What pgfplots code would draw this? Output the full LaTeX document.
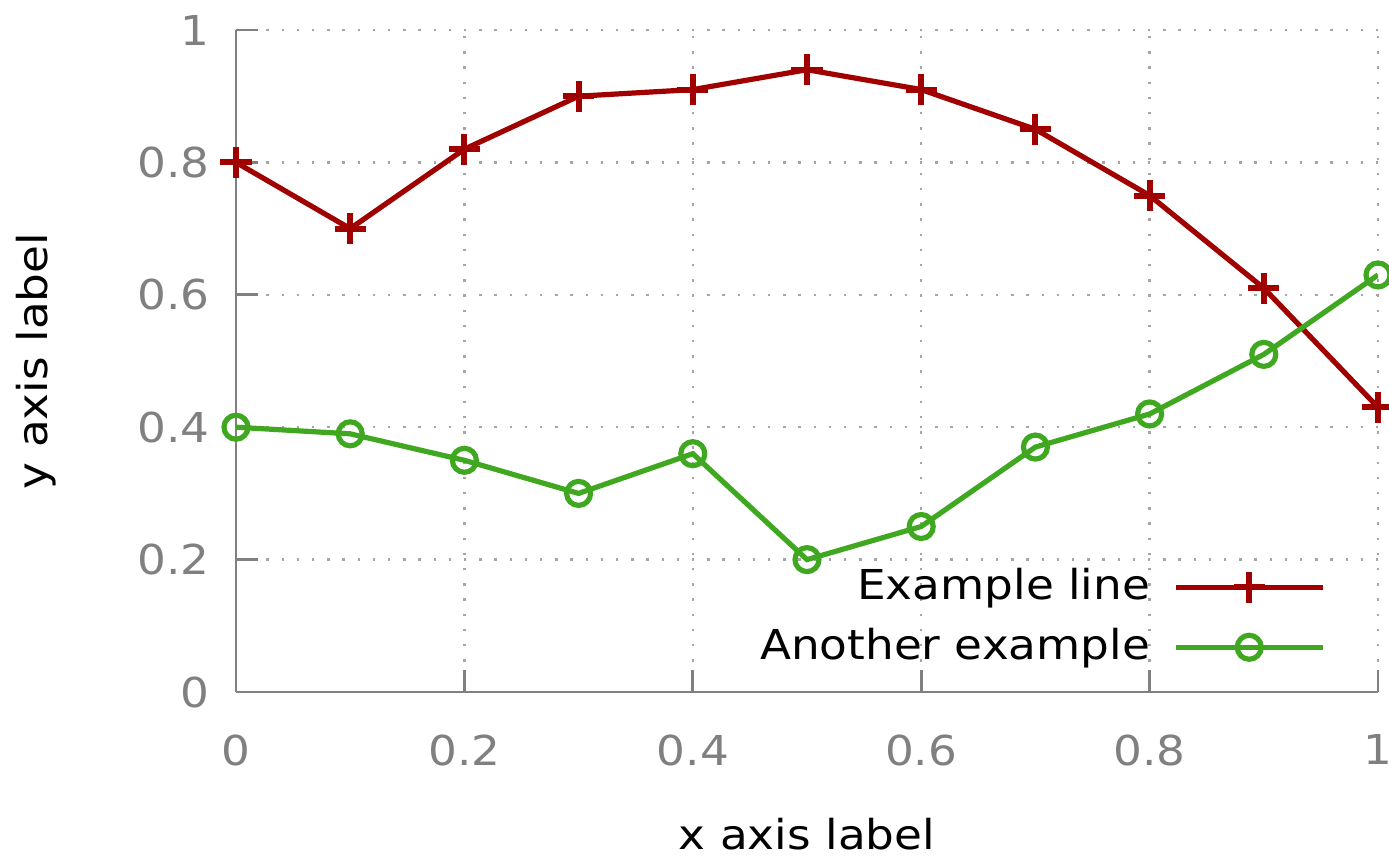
\documentclass[border=0pt]{standalone}
\usepackage{pgfplots}
\pgfplotsset{compat=1.18}
\usepackage{fontspec}
\setmainfont{DejaVu Sans}[FakeStretch=1.1]
\definecolor{lnred}{RGB}{160,0,0}
\definecolor{lngreen}{RGB}{64,168,32}
\definecolor{axgray}{RGB}{128,128,128}
\definecolor{gridgray}{RGB}{165,165,165}
\begin{document}
\begin{tikzpicture}
\fontsize{10.3}{12.4}\selectfont
\begin{axis}[
  name=ax,
  scale only axis,
  width=285.5pt, height=165.5pt,
  xmin=0, xmax=1, ymin=0, ymax=1,
  xtick={0,0.2,0.4,0.6,0.8,1},
  ytick={0,0.2,0.4,0.6,0.8,1},
  axis lines=left,
  axis line style={axgray, line width=0.7pt, -},
  tick style={axgray, line width=0.7pt},
  major tick length=5.5pt,
  tick align=inside,
  xtick pos=bottom, ytick pos=left,
  grid=major,
  major grid style={gridgray, line width=0.6pt, dash pattern=on 0.6pt off 3.2pt},
  ticklabel style={axgray, font=\fontsize{10.3}{12.4}\selectfont},
  /pgf/number format/assume math mode=true,
  xticklabel style={yshift=-7pt},
  yticklabel style={xshift=-3pt},
  xlabel={x axis label},
  ylabel={y axis label},
  label style={font=\fontsize{10.3}{12.4}\selectfont},
  xlabel style={yshift=-6pt},
  ylabel style={yshift=13.25pt},
  legend style={draw=none, fill=none, at={(0.9545,0.032)}, anchor=south east,
    font=\fontsize{10.3}{12.4}\selectfont, row sep=3.65pt, column sep=4.75pt,
    inner sep=0pt, nodes={inner sep=1pt}},
  legend cell align=right,
  legend plot pos=right,
  legend image code/.code={%
    \draw[mark repeat=2,mark phase=2] plot coordinates {(0pt,0pt) (18.4pt,0pt) (36.75pt,0pt)};},
]
\addplot[lnred, line width=1.3pt, mark=+, mark size=3.9pt,
  mark options={line width=1.5pt}] coordinates {
  (0,0.80) (0.1,0.70) (0.2,0.82) (0.3,0.90) (0.4,0.91) (0.5,0.94)
  (0.6,0.91) (0.7,0.85) (0.8,0.75) (0.9,0.61) (1.0,0.43)};
\addlegendentry{Example line}
\addplot[lngreen, line width=1.3pt, mark=o, mark size=3pt,
  mark options={line width=1.3pt}] coordinates {
  (0,0.40) (0.1,0.39) (0.2,0.35) (0.3,0.30) (0.4,0.36) (0.5,0.20)
  (0.6,0.25) (0.7,0.37) (0.8,0.42) (0.9,0.51) (1.0,0.63)};
\addlegendentry{Another example}
\end{axis}
\pgfresetboundingbox
\path[use as bounding box] ([xshift=-59pt,yshift=-41.5pt]ax.south west)
  rectangle ([xshift=2.75pt,yshift=7.5pt]ax.north east);
\end{tikzpicture}
\end{document}
